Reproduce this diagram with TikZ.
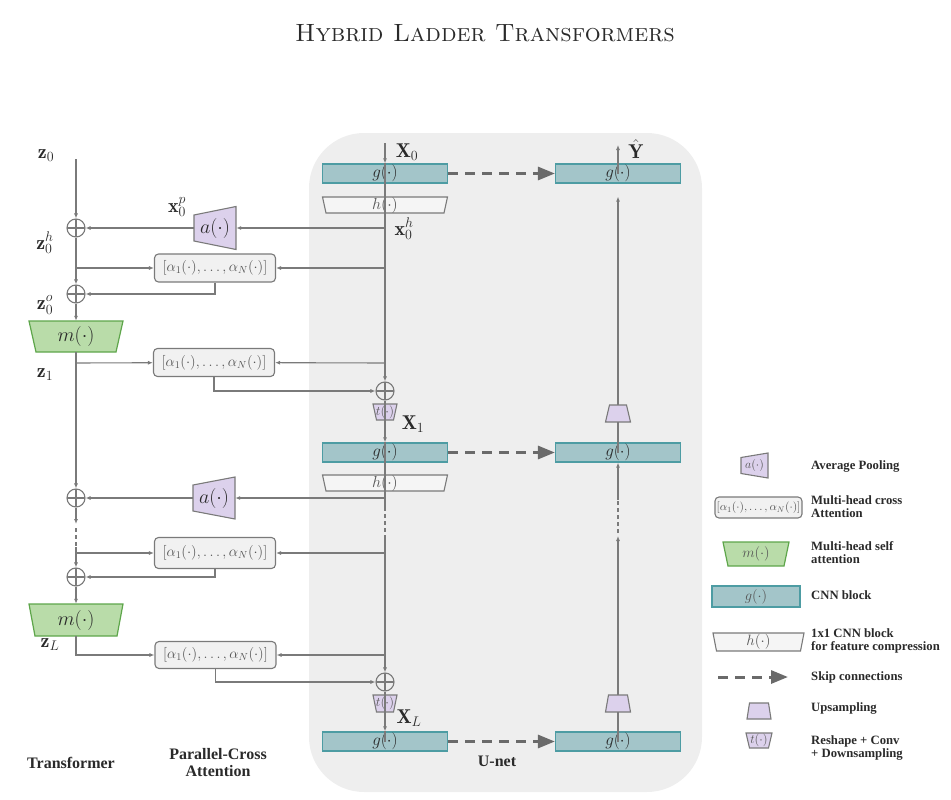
\RequirePackage{fix-cm}
\documentclass[tikz,border=0pt]{standalone}
\usepackage{fontspec}
\newfontfamily\lgdfont{Liberation Serif}
\usetikzlibrary{arrows.meta}
\definecolor{lc}{HTML}{7A7A7A}
\definecolor{sk}{HTML}{6A6A6A}
\definecolor{bgc}{HTML}{EEEEEE}
\definecolor{gfill}{HTML}{A3C5C9}
\definecolor{gdraw}{HTML}{4D9CA3}
\definecolor{mfill}{HTML}{B9DCA9}
\definecolor{mdraw}{HTML}{5EA64B}
\definecolor{pfill}{HTML}{DCD1EC}
\definecolor{afill}{HTML}{F1F1F1}
\definecolor{hfill}{HTML}{F5F5F5}
\definecolor{txt}{HTML}{2A2A2A}
\definecolor{btxt}{HTML}{555555}
% trapezium with horizontal parallel sides: style, cx, cy, top half-width, bottom half-width, half-height
\newcommand\trapz[6]{\path[#1] ({#2-#4},{#3-#6}) -- ({#2+#4},{#3-#6}) -- ({#2+#5},{#3+#6}) -- ({#2-#5},{#3+#6}) -- cycle;}
% trapezium with vertical parallel sides: style, cx, cy, left half-height, right half-height, half-width
\newcommand\htrapz[6]{\path[#1] ({#2-#6},{#3-#4}) -- ({#2+#6},{#3-#5}) -- ({#2+#6},{#3+#5}) -- ({#2-#6},{#3+#4}) -- cycle;}
\begin{document}
\begin{tikzpicture}[x=1pt,y=-1pt,
 ln/.style={draw=lc,line width=1.1pt},
 conn/.style={ln,-{Latex[length=5pt,width=4pt]}},
 dsh/.style={ln,dash pattern=on 4pt off 3pt},
 gbox/.style={draw=gdraw,fill=gfill,line width=1.2pt,inner sep=0pt,minimum width=125pt,minimum height=19pt,text=txt,font=\fontsize{17}{17}\selectfont},
 attn/.style={draw=lc,fill=afill,line width=1.1pt,rounded corners=4pt,inner sep=0pt,minimum width=121pt,minimum height=28pt,text=btxt,font=\fontsize{14.7}{14.7}\selectfont},
 opl/.style={circle,draw=lc,line width=1.1pt,minimum size=18pt,inner sep=0pt,path picture={\draw[lc,line width=1.1pt] (path picture bounding box.north)--(path picture bounding box.south) (path picture bounding box.west)--(path picture bounding box.east);}},
 tz/.style={inner sep=0pt,text=txt},
 pshape/.style={draw=lc,fill=pfill,line width=1.1pt},
 mshape/.style={draw=mdraw,fill=mfill,line width=1.2pt},
 hshape/.style={draw=lc,fill=hfill,line width=1.1pt},
 lbl/.style={inner sep=0pt,text=txt,font=\fontsize{20}{20}\selectfont},
 skiparr/.style={draw=sk,line width=3pt,dash pattern=on 10pt off 7pt,-{Triangle[length=17pt,width=13pt]}},
 bottomtxt/.style={inner sep=0pt,align=center,text=txt,font=\lgdfont\bfseries\fontsize{16}{17}\selectfont},
 lgdtxt/.style={anchor=west,align=left,inner sep=0pt,text=txt,font=\lgdfont\bfseries\fontsize{12.7}{13}\selectfont}
]
\useasboundingbox (0,0) rectangle (951,800);
\fill[bgc,rounded corners=55pt] (309,133) rectangle (702,792);

% title
\node[inner sep=0pt,text=txt] (title) at (485,33) {\fontsize{25}{25}\selectfont\textsc{Hybrid Ladder Transformers}};

% ---------- U-net, down path ----------
\node[gbox] (g1) at (385,173.5) {$g(\cdot)$};
\trapz{hshape}{385}{205}{62.5}{59}{8}
\node[tz,minimum width=125pt,minimum height=16pt,text=btxt,font=\fontsize{16}{16}\selectfont] (h1) at (385,205) {$h(\cdot)$};
\node[opl] (c1) at (385,391) {};
\trapz{pshape}{385}{412}{12}{8.5}{8}
\node[tz,minimum width=24pt,minimum height=16pt,text=btxt,font=\fontsize{13}{13}\selectfont] (t1) at (385,412) {$t(\cdot)$};
\node[gbox] (g2) at (385,452.5) {$g(\cdot)$};
\trapz{hshape}{385}{483}{62.5}{59}{8}
\node[tz,minimum width=125pt,minimum height=16pt,text=btxt,font=\fontsize{16}{16}\selectfont] (h2) at (385,483) {$h(\cdot)$};
\node[opl] (c2) at (385,682) {};
\trapz{pshape}{385}{703.5}{12}{8.5}{8.5}
\node[tz,minimum width=24pt,minimum height=17pt,text=btxt,font=\fontsize{13}{13}\selectfont] (t2) at (385,703.5) {$t(\cdot)$};
\node[gbox] (gL) at (385,741.5) {$g(\cdot)$};

% ---------- U-net, up path ----------
\node[gbox] (gr1) at (618,173.5) {$g(\cdot)$};
\node[gbox] (gr2) at (618,452.5) {$g(\cdot)$};
\node[gbox] (grL) at (618,741.5) {$g(\cdot)$};
\trapz{pshape}{618}{413.5}{8.5}{12.5}{8.5}
\node[tz,minimum width=25pt,minimum height=17pt] (up1) at (618,413.5) {};
\trapz{pshape}{618}{703.5}{9.5}{12.5}{8.5}
\node[tz,minimum width=25pt,minimum height=17pt] (up2) at (618,703.5) {};

% ---------- parallel cross attention ----------
\node[attn] (at1) at (215,268) {$[\alpha_1(\cdot),\ldots,\alpha_N(\cdot)]$};
\node[attn] (at2) at (214,362.5) {$[\alpha_1(\cdot),\ldots,\alpha_N(\cdot)]$};
\node[attn,minimum height=31pt] (at3) at (215,553) {$[\alpha_1(\cdot),\ldots,\alpha_N(\cdot)]$};
\node[attn,minimum height=27pt] (at4) at (215.5,655) {$[\alpha_1(\cdot),\ldots,\alpha_N(\cdot)]$};
\htrapz{pshape}{215}{228}{13}{21.5}{21}
\node[tz,minimum width=42pt,minimum height=43pt,font=\fontsize{20}{20}\selectfont] (a1) at (215,228) {$a(\cdot)$};
\htrapz{pshape}{214}{498}{13}{21}{21}
\node[tz,minimum width=42pt,minimum height=42pt,font=\fontsize{20}{20}\selectfont] (a2) at (214,498) {$a(\cdot)$};

% ---------- transformer ----------
\node[opl] (l1) at (76,228) {};
\node[opl] (l2) at (76,294) {};
\trapz{mshape}{76}{336.5}{47}{40}{15.5}
\node[tz,minimum width=94pt,minimum height=31pt,font=\fontsize{20}{20}\selectfont] (m1) at (76,336.5) {$m(\cdot)$};
\node[opl] (l3) at (76,498) {};
\node[opl] (l4) at (76,577) {};
\trapz{mshape}{76}{620}{47}{41}{16}
\node[tz,minimum width=94pt,minimum height=32pt,font=\fontsize{20}{20}\selectfont] (m2) at (76,620) {$m(\cdot)$};

% ---------- coordinates ----------
\coordinate (z0c) at (76,159);
\coordinate (lq1) at (76,268);
\coordinate (lq2) at (76,363);
\coordinate (ld1) at (76,524);
\coordinate (ld2) at (76,528);
\coordinate (ld3) at (76,547);
\coordinate (lq3) at (76,553);
\coordinate (x0in) at (385,143);
\coordinate (xh0) at (385,228);
\coordinate (r1) at (385,268);
\coordinate (r2) at (385,363);
\coordinate (xh1) at (385,498);
\coordinate (cd1) at (385,507);
\coordinate (cd2) at (385,537);
\coordinate (r3) at (385,553);
\coordinate (r4) at (385,655);
\coordinate (yhat) at (618,145);
\coordinate (rd1) at (618,500);
\coordinate (rd2) at (618,533);
\coordinate (rd3) at (618,536);

% ---------- connectors: transformer column ----------
\draw[conn] (z0c) -- (l1);
\draw[conn] (l1) -- (l2);
\draw[conn] (l2) -- (m1);
\draw[conn] (m1) -- (l3);
\draw[conn] (l3) -- (ld1);
\draw[dsh] (ld2) -- (ld3);
\draw[ln] (ld3) -- (lq3);
\draw[conn] (lq3) -- (l4);
\draw[conn] (l4) -- (m2);

% ---------- connectors: U-net down column ----------
\draw[conn] (x0in) -- (g1.north);
\draw[conn] (g1.north) -- (c1);
\draw[conn] (c1) -- (g2.north);
\draw[ln] (g2.north) -- (xh1) -- (cd1);
\draw[dsh] (cd1) -- (cd2);
\draw[conn] (cd2) -- (c2);
\draw[conn] (c2) -- (gL.north);
\draw[ln] (gL.north) -- (gL.center);

% ---------- connectors: U-net up column ----------
\draw[conn] (gr1.center) -- (yhat);
\draw[conn,shorten >=13pt] (up1.north) -- (gr1.south);
\draw[ln] (gr2.center) -- (up1.south);
\draw[conn] (rd1) -- (gr2.south);
\draw[dsh] (rd2) -- (rd1);
\draw[conn] (up2.north) -- (rd3);
\draw[ln] (grL.center) -- (up2.south);

% ---------- skip connections ----------
\draw[skiparr] (g1.east) -- (gr1.west);
\draw[skiparr] (g2.east) -- (gr2.west);
\draw[skiparr] (gL.east) -- (grL.west);

% ---------- horizontal connectors ----------
\draw[conn] (xh0) -- (a1);
\draw[conn] (a1) -- (l1);
\draw[conn] (r1) -- (at1);
\draw[conn] (lq1) -- (at1);
\draw[conn] (at1.south) |- (l2);
\draw[conn] (r2) -- (at2);
\draw[conn] (lq2) -- (at2);
\draw[conn] (at2.south) |- (c1);
\draw[conn] (xh1) -- (a2);
\draw[conn] (a2) -- (l3);
\draw[conn] (r3) -- (at3);
\draw[conn] (lq3) -- (at3);
\draw[conn] (at3.south) |- (l4);
\draw[conn] (r4) -- (at4);
\draw[conn] (m2.south) |- (at4);
\draw[conn] (at4.south) |- (c2);

% ---------- labels ----------
\node[lbl] (lz0) at (46,156) {$\mathbf{z}_0$};
\node[lbl] (lz0h) at (45,243) {$\mathbf{z}_0^h$};
\node[lbl] (lz0o) at (45,305) {$\mathbf{z}_0^o$};
\node[lbl] (lz1) at (45,375) {$\mathbf{z}_1$};
\node[lbl] (lzL) at (50,645) {$\mathbf{z}_L$};
\node[lbl] (lx0p) at (177,207) {$\mathbf{x}_0^p$};
\node[lbl] (lX0) at (407,152) {$\mathbf{X}_0$};
\node[lbl] (lx0h) at (404,229) {$\mathbf{x}_0^h$};
\node[lbl] (lX1) at (413,424) {$\mathbf{X}_1$};
\node[lbl] (lXL) at (409,718) {$\mathbf{X}_L$};
\node[lbl] (lY) at (636,149) {$\hat{\mathbf{Y}}$};

\node[bottomtxt] (ttr) at (71,763) {Transformer};
\node[bottomtxt] (tpc) at (218,763) {Parallel-Cross\\Attention};
\node[bottomtxt] (tun) at (497,761) {U-net};

% ---------- legend ----------
\htrapz{pshape}{754.5}{465.5}{8}{12.5}{13.5}
\node[tz,minimum width=27pt,minimum height=25pt,text=btxt,font=\fontsize{12}{12}\selectfont] (lga) at (754.5,465.5) {$a(\cdot)$};
\node[attn,minimum width=87pt,minimum height=21pt,font=\fontsize{11.5}{11.5}\selectfont] (lgat) at (758.5,507.5) {$[\alpha_1(\cdot),\ldots,\alpha_N(\cdot)]$};
\trapz{mshape}{756}{554}{33}{28}{12}
\node[tz,minimum width=66pt,minimum height=24pt,text=btxt,font=\fontsize{14.5}{14.5}\selectfont] (lgm) at (756,554) {$m(\cdot)$};
\node[gbox,minimum width=88pt,minimum height=21pt,font=\fontsize{14.5}{14.5}\selectfont,text=btxt] (lgg) at (756,596.5) {$g(\cdot)$};
\trapz{hshape}{758.5}{642}{45.5}{42}{9}
\node[tz,minimum width=91pt,minimum height=18pt,text=btxt,font=\fontsize{15}{15}\selectfont] (lgh) at (758.5,642) {$h(\cdot)$};
\coordinate (ls1) at (718,677);
\coordinate (ls2) at (788,677);
\draw[skiparr] (ls1) -- (ls2);
\trapz{pshape}{759}{711}{9.5}{12}{8}
\node[tz,minimum width=24pt,minimum height=16pt] (lgup) at (759,711) {};
\trapz{pshape}{759}{740.5}{13}{9.5}{7.5}
\node[tz,minimum width=26pt,minimum height=15pt,text=btxt,font=\fontsize{12.5}{12.5}\selectfont] (lgt) at (759,740.5) {$t(\cdot)$};

\node[lgdtxt] (d1) at (811,466) {Average Pooling};
\node[lgdtxt] (d2) at (811,507) {Multi-head cross\\Attention};
\node[lgdtxt] (d3) at (811,553) {Multi-head self\\attention};
\node[lgdtxt] (d4) at (811,595) {CNN block};
\node[lgdtxt] (d5) at (811,640.5) {1x1 CNN block\\for feature compression};
\node[lgdtxt] (d6) at (811,677) {Skip connections};
\node[lgdtxt] (d7) at (811,708) {Upsampling};
\node[lgdtxt] (d8) at (811,748) {Reshape + Conv\\+ Downsampling};
\end{tikzpicture}
\end{document}
